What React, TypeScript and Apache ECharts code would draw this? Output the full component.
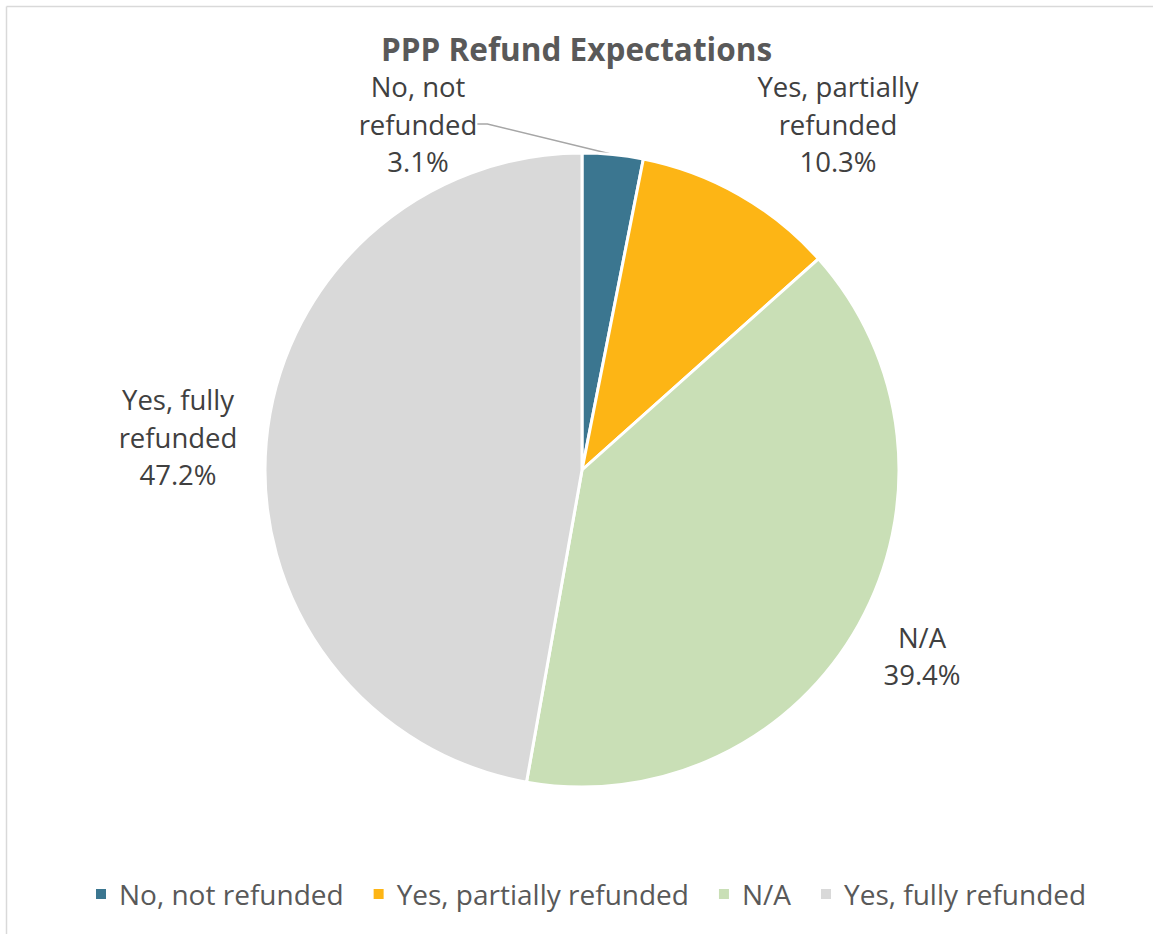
import React, { useEffect, useRef } from "react";
import * as echarts from "echarts";

const categories = ["No, not refunded", "Yes, partially refunded", "N/A", "Yes, fully refunded"];
const values = [3.1, 10.3, 39.4, 47.2];
const labelNames = ["No, not\nrefunded", "Yes, partially\nrefunded", "N/A", "Yes, fully\nrefunded"];
const colors = ["#3B7690", "#FDB515", "#C9DFB6", "#D9D9D9"];
const labelPos = [
  [418, 124],
  [838, 124],
  [922, 656],
  [178, 437],
];

export default function App() {
  const ref = useRef<HTMLDivElement>(null);
  useEffect(() => {
    if (!ref.current) return;
    const chart = echarts.init(ref.current, undefined, { renderer: "svg" });
    const font = "'Open Sans', 'Noto Sans', sans-serif";
    chart.setOption({
      animation: false,
      backgroundColor: "#ffffff",
      title: {
        text: "PPP Refund Expectations",
        left: "center",
        top: 27,
        textStyle: { fontFamily: font, fontSize: 31.5, fontWeight: "bold", color: "#595959" },
      },
      legend: {
        bottom: 26,
        left: 94,
        padding: 0,
        itemWidth: 12,
        itemHeight: 12,
        itemGap: 28,
        icon: "rect",
        textStyle: { fontFamily: font, fontSize: 28, color: "#595959", padding: [0, 0, 0, 7] },
        data: categories,
      },
      graphic: [
        { type: "line", shape: { x1: 6.5, y1: 6.5, x2: 1153, y2: 6.5 }, style: { stroke: "#D9D9D9", lineWidth: 1.5 } },
        { type: "line", shape: { x1: 6.5, y1: 6.5, x2: 6.5, y2: 934 }, style: { stroke: "#D9D9D9", lineWidth: 1.5 } },
      ],
      series: [
        {
          type: "pie",
          center: [582, 470],
          radius: 317,
          startAngle: 90,
          clockwise: true,
          itemStyle: { borderColor: "#ffffff", borderWidth: 3 },
          emphasis: { disabled: true },
          data: categories.map((c, i) => ({
            name: c,
            value: values[i],
            itemStyle: { color: colors[i] },
            labelLine: { show: i === 0, lineStyle: { color: "#A6A6A6", width: 1.5 } },
          })),
          label: {
            show: true,
            position: "outside",
            fontFamily: font,
            fontSize: 27.5,
            lineHeight: 37.5,
            color: "#404040",
            align: "center",
            formatter: (p: any) => labelNames[p.dataIndex] + "\n" + values[p.dataIndex].toFixed(1) + "%",
          },
          labelLine: { show: true, length: 10, length2: 10 },
          labelLayout: (p: any) => ({
            x: labelPos[p.dataIndex][0],
            y: labelPos[p.dataIndex][1],
            align: "center",
            verticalAlign: "middle",
          }),
        },
      ],
    });
    return () => chart.dispose();
  }, []);
  return <div ref={ref} style={{ position: "fixed", left: 0, top: 0, width: 1153, height: 934 }} />;
}
